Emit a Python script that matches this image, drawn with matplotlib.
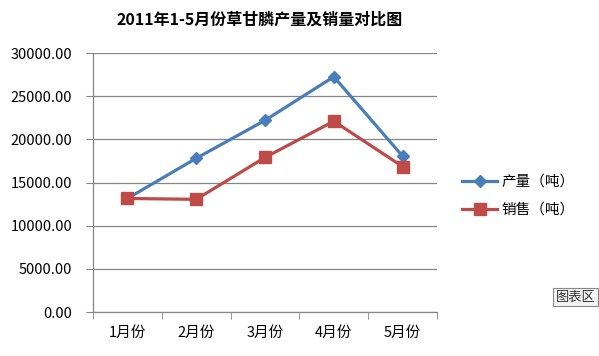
import matplotlib
matplotlib.use('Agg')
import matplotlib.pyplot as plt
import numpy as np

plt.rcParams['font.family'] = ['Noto Sans CJK SC', 'DejaVu Sans']

months = ['1月份', '2月份', '3月份', '4月份', '5月份']
output = [13150, 17800, 22200, 27250, 18050]
sales = [13150, 13050, 17900, 22100, 16850]
yticks = [0, 5000, 10000, 15000, 20000, 25000, 30000]


def plot():
    fig = plt.figure(figsize=(5.99, 3.56), dpi=100)
    ax = fig.add_axes([93 / 599, 1 - 312 / 356, 344 / 599, 259 / 356])

    x = np.arange(len(months))
    ax.plot(x, output, color='#4A7EBB', lw=2.3, marker='D', ms=6.5,
            label='产量（吨）', zorder=3)
    ax.plot(x, sales, color='#BE4B48', lw=2.3, marker='s', ms=8,
            label='销售（吨）', zorder=4)

    ax.set_xlim(-0.5, 4.5)
    ax.set_ylim(0, 30000)
    ax.set_yticks(yticks)
    ax.set_yticklabels(['%.2f' % v for v in yticks], fontsize=10.5)
    ax.set_xticks(x)
    ax.set_xticklabels(months, fontsize=10.5)
    ax.set_xticks(np.arange(-0.5, 5, 1), minor=True)
    ax.tick_params(axis='x', which='major', length=0, pad=10)
    ax.tick_params(axis='x', which='minor', length=5, color='#868686')
    ax.tick_params(axis='y', length=5, color='#868686', pad=10)

    ax.grid(axis='y', color='#868686', lw=0.9)
    ax.set_axisbelow(True)
    for s in ['top', 'right']:
        ax.spines[s].set_visible(False)
    for s in ['left', 'bottom']:
        ax.spines[s].set_color('#868686')
        ax.spines[s].set_linewidth(0.9)

    fig.text(260 / 599, 1 - 20 / 356, '2011年1-5月份草甘膦产量及销量对比图',
             ha='center', va='center', fontsize=11.5, fontweight='bold')

    ax.legend(loc='center left', bbox_to_anchor=(449 / 599, 1 - 196 / 356),
              bbox_transform=fig.transFigure, frameon=False, fontsize=10.5,
              handlelength=2.4, labelspacing=0.95, handletextpad=0.3)

    fig.text(556 / 599, 1 - 297 / 356, '图表区', ha='left', va='center',
             fontsize=9.5, color='#333333',
             bbox=dict(boxstyle='square,pad=0.2', fc='#F4F4F4', ec='#888888', lw=0.8))

    fig.savefig('out.png', dpi=100)


def main():
    plot()


if __name__ == "__main__":
    main()
